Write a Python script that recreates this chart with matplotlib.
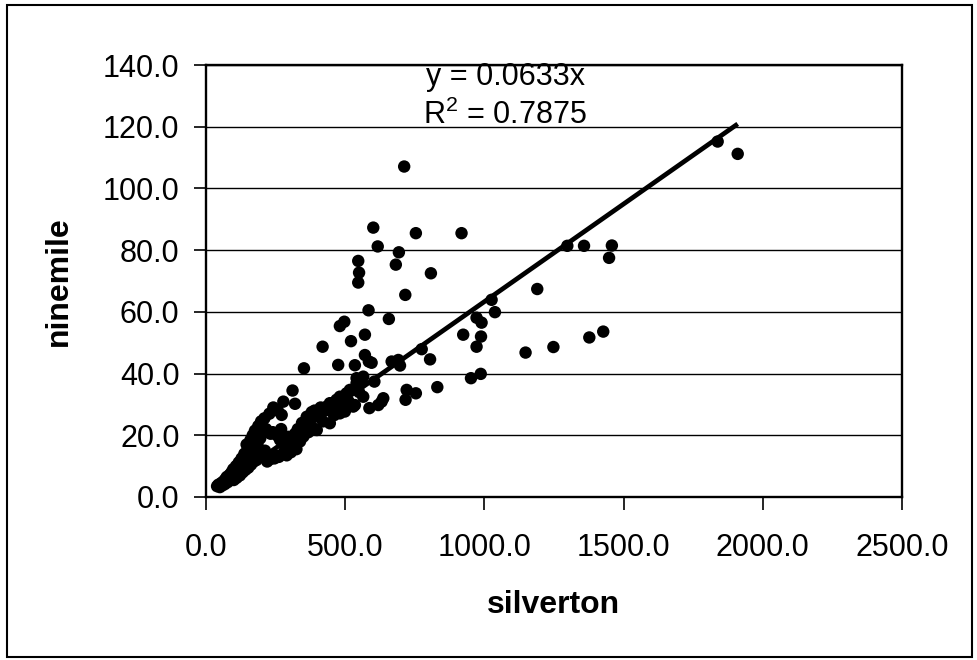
import matplotlib
matplotlib.use("Agg")
import matplotlib.pyplot as plt
from matplotlib.patches import Rectangle
from matplotlib.ticker import FormatStrFormatter

plt.rcParams['font.family'] = ['Liberation Sans', 'DejaVu Sans']

# silverton (x) vs ninemile (y)
silverton = [
    # dense cluster near the origin
    40, 45, 50, 55, 60, 62, 68, 70, 75, 78, 82, 85, 88, 92, 95, 98, 100, 105,
    108, 110, 115, 118, 122, 125, 128, 132, 135, 138, 142, 146, 146, 150, 152,
    156, 160, 162, 165, 168, 172, 176, 178, 182, 185, 188, 192, 195, 198, 202,
    205, 210, 212, 216, 220, 224, 228, 232, 236, 240, 242, 246, 250, 255, 258,
    262, 266, 270, 272, 278, 280, 285, 290, 295, 300, 305, 310, 314, 320, 325,
    330, 338, 345, 350, 356, 362, 368, 374, 380, 385, 390, 398, 398, 405, 412,
    420, 428, 434, 445, 445, 452, 460, 469, 475, 481, 481, 490, 499, 505, 512,
    517, 529, 535, 541, 550, 558, 565,
    # scattered points
    601, 754, 918, 617, 693, 547, 682, 550, 547, 808, 716, 584, 657, 497, 481,
    571, 521, 419, 571, 585, 595, 475, 535, 352, 667, 691, 697, 541, 605, 775,
    805, 924, 972, 990, 1026, 1038, 988, 972, 952, 987, 831, 721, 754, 717, 637,
    631, 587, 565, 311, 320, 1838, 1910, 1298, 1358, 1458, 1448, 1190, 1427,
    1377, 1248, 1148, 712, 619,
]
ninemile = [
    3.5, 4.0, 3.2, 4.5, 3.8, 5.0, 4.2, 5.8, 6.5, 4.8, 5.5, 7.2, 6.0, 8.0, 6.5,
    9.0, 5.5, 7.5, 10.0, 6.2, 8.5, 11.2, 7.0, 9.5, 12.5, 8.0, 10.5, 14.0, 8.8,
    11.5, 17.0, 15.5, 9.5, 12.5, 18.5, 10.5, 14.0, 20.0, 11.5, 21.5, 15.0, 12.0,
    17.0, 23.0, 13.0, 19.0, 24.5, 14.0, 21.0, 25.5, 15.0, 22.0, 11.5, 12.0,
    27.0, 20.5, 12.5, 21.0, 29.0, 12.5, 13.5, 20.0, 28.0, 13.0, 18.5, 22.0,
    26.6, 30.9, 14.5, 17.0, 13.5, 19.5, 16.0, 14.5, 18.0, 16.9, 20.5, 15.5,
    22.0, 18.0, 24.0, 19.6, 22.5, 26.0, 21.0, 25.0, 27.5, 22.3, 28.0, 27.1,
    21.7, 26.0, 29.0, 24.5, 28.0, 29.3, 23.9, 30.4, 28.8, 26.5, 31.5, 29.0,
    27.1, 32.5, 30.5, 27.7, 33.6, 31.0, 34.7, 29.3, 29.8, 36.9, 34.0, 37.5,
    39.0,
    87.3, 85.5, 85.5, 81.2, 79.3, 76.5, 75.3, 72.7, 69.5, 72.5, 65.5, 60.5,
    57.7, 56.8, 55.4, 52.6, 50.5, 48.7, 46.0, 43.9, 43.5, 42.8, 42.7, 41.7,
    43.9, 44.4, 42.6, 38.5, 37.4, 47.9, 44.6, 52.6, 58.1, 56.5, 63.9, 59.9,
    52.0, 48.7, 38.5, 39.9, 35.6, 34.7, 33.6, 31.5, 32.0, 30.9, 28.8, 32.5,
    34.5, 30.2, 115.2, 111.2, 81.4, 81.4, 81.5, 77.5, 67.4, 53.6, 51.7, 48.6,
    46.8, 107.1, 29.8,
]

slope = 0.0633
r_squared = 0.7875
x_ticks = [0, 500, 1000, 1500, 2000, 2500]
y_ticks = [0, 20, 40, 60, 80, 100, 120, 140]

fig = plt.figure(figsize=(9.77, 6.6), dpi=100)
ax = fig.add_axes([0.2108, 0.2470, 0.7124, 0.6545])

ax.set_axisbelow(True)
ax.grid(axis='y', color='black', linewidth=1.0)
ax.scatter(silverton, ninemile, s=80, color='black', edgecolors='none', zorder=3)

# Excel-style trend line through the origin, spanning the data range
x_line = [min(silverton), max(silverton)]
ax.plot(x_line, [slope * v for v in x_line], color='black', linewidth=3.4,
        solid_capstyle='butt', zorder=4)

ax.set_xlim(0, 2500)
ax.set_ylim(0, 140)
ax.set_xticks(x_ticks)
ax.set_yticks(y_ticks)
ax.xaxis.set_major_formatter(FormatStrFormatter('%.1f'))
ax.yaxis.set_major_formatter(FormatStrFormatter('%.1f'))
ax.tick_params(axis='both', direction='out', length=9, width=1.2,
               labelsize=22, colors='black')
ax.tick_params(axis='x', pad=17)
ax.tick_params(axis='y', pad=10)
for sp in ax.spines.values():
    sp.set_linewidth(1.7)
    sp.set_color('black')

ax.set_xlabel('silverton', fontsize=23, fontweight='bold')
ax.set_ylabel('ninemile', fontsize=23, fontweight='bold')
ax.xaxis.set_label_coords(0.5, -0.215)
ax.yaxis.set_label_coords(-0.19, 0.5)

ax.text(0.43, 0.972, 'y = 0.0633x', transform=ax.transAxes, ha='center',
        va='center', fontsize=22, zorder=5)
ax.text(0.43, 0.884, '$\\mathregular{R^2}$ = %.4f' % r_squared,
        transform=ax.transAxes, ha='center', va='center', fontsize=22, zorder=5)

# frame around the whole chart
fig.patches.append(Rectangle((0.0072, 0.0045), 0.9878, 0.9875,
                             transform=fig.transFigure, fill=False,
                             edgecolor='black', linewidth=1.5))

fig.savefig('out.png', dpi=100, facecolor='white')
